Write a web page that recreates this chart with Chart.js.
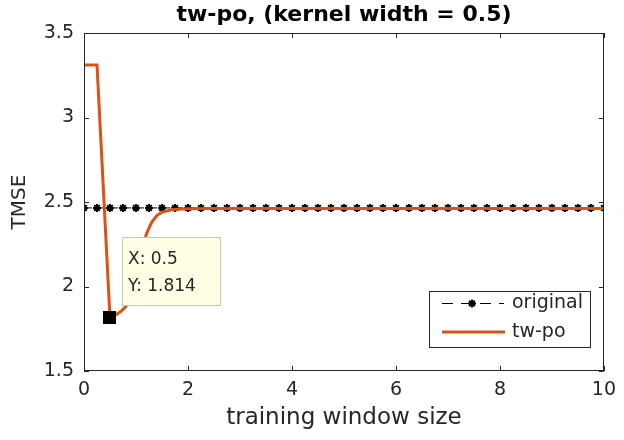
<!DOCTYPE html>
<html>
<head>
<meta charset="utf-8">
<script src="https://cdn.jsdelivr.net/npm/chart.js@4/dist/chart.umd.min.js"></script>
<style>
  html, body { margin: 0; padding: 0; background: #ffffff; }
  #wrap { width: 624px; height: 440px; }
</style>
</head>
<body>
<div id="wrap"><canvas id="c" width="624" height="440"></canvas></div>
<script>
// ---- data ----
const chartTitle = 'tw-po, (kernel width = 0.5)';
const xLabel = 'training window size';
const yLabel = 'TMSE';
const seriesNames = ['original', 'tw-po'];

const originalX = [0, 0.25, 0.5, 0.75, 1, 1.25, 1.5, 1.75, 2, 2.25, 2.5, 2.75, 3, 3.25, 3.5, 3.75,
  4, 4.25, 4.5, 4.75, 5, 5.25, 5.5, 5.75, 6, 6.25, 6.5, 6.75, 7, 7.25, 7.5, 7.75,
  8, 8.25, 8.5, 8.75, 9, 9.25, 9.5, 9.75, 10];
const originalY = [2.465, 2.465, 2.465, 2.465, 2.465, 2.465, 2.465, 2.465, 2.465, 2.465, 2.465,
  2.465, 2.465, 2.465, 2.465, 2.465, 2.465, 2.465, 2.465, 2.465, 2.465, 2.465, 2.465, 2.465,
  2.465, 2.465, 2.465, 2.465, 2.465, 2.465, 2.465, 2.465, 2.465, 2.465, 2.465, 2.465, 2.465,
  2.465, 2.465, 2.465, 2.465];

const twpoX = [0, 0.25, 0.5, 0.6, 0.7, 0.8, 0.9, 1.0, 1.1, 1.15, 1.2, 1.3, 1.4, 1.5, 1.7, 2.0,
  2.5, 3, 4, 5, 6, 7, 8, 9, 10];
const twpoY = [3.31, 3.31, 1.814, 1.83, 1.85, 1.88, 1.93, 2.03, 2.17, 2.25, 2.31, 2.38, 2.42,
  2.44, 2.455, 2.46, 2.462, 2.462, 2.462, 2.462, 2.462, 2.462, 2.462, 2.462, 2.462];

const xTicks = [0, 2, 4, 6, 8, 10];
const yTicks = [1.5, 2, 2.5, 3, 3.5];

const tipX = 0.5;
const tipY = 1.814;
const tipLines = ['X: 0.5', 'Y: 1.814'];

// ---- chart ----
const INK = '#262626';
const ORANGE = '#D95319';
const FONT = 'DejaVu Sans';

const xyOf = (xs, ys) => xs.map((x, i) => ({x: x, y: ys[i]}));

const matlabPlugin = {
  id: 'matlabPlugin',
  afterDatasetsDraw(chart) {
    const {ctx, chartArea: a, scales} = chart;
    const xs = scales.x, ys = scales.y;
    ctx.save();
    // frame
    ctx.strokeStyle = INK;
    ctx.lineWidth = 1;
    ctx.strokeRect(Math.round(a.left) + 0.5, Math.round(a.top) + 0.5,
      Math.round(a.right - a.left) - 1, Math.round(a.bottom - a.top) - 1);
    // inward ticks on all four sides
    const tl = 5;
    ctx.beginPath();
    xs.ticks.forEach(t => {
      const px = Math.round(xs.getPixelForValue(t.value)) + 0.5;
      ctx.moveTo(px, a.bottom); ctx.lineTo(px, a.bottom - tl);
      ctx.moveTo(px, a.top); ctx.lineTo(px, a.top + tl);
    });
    ys.ticks.forEach(t => {
      const py = Math.round(ys.getPixelForValue(t.value)) + 0.5;
      ctx.moveTo(a.left, py); ctx.lineTo(a.left + tl, py);
      ctx.moveTo(a.right, py); ctx.lineTo(a.right - tl, py);
    });
    ctx.stroke();

    // data tip
    const mx = xs.getPixelForValue(tipX), my = ys.getPixelForValue(tipY);
    ctx.fillStyle = '#000000';
    ctx.fillRect(Math.round(mx - 6.5), Math.round(my - 6.5), 13, 13);
    const bx = Math.round(mx + 12), by = Math.round(my - 81);
    const bw = 99, bh = 69;
    ctx.fillStyle = '#FFFFE6';
    ctx.fillRect(bx, by, bw, bh);
    ctx.strokeStyle = '#C8C8B4';
    ctx.strokeRect(bx + 0.5, by + 0.5, bw - 1, bh - 1);
    ctx.fillStyle = INK;
    ctx.font = '17px "' + FONT + '"';
    ctx.textAlign = 'left';
    ctx.textBaseline = 'middle';
    ctx.fillText(tipLines[0], bx + 6, by + 23);
    ctx.fillText(tipLines[1], bx + 6, by + 50);

    // legend (bottom-right inside the axes)
    const lx = 429, ly = 291, lw = 162, lh = 57;
    ctx.fillStyle = '#ffffff';
    ctx.fillRect(lx, ly, lw, lh);
    ctx.strokeStyle = INK;
    ctx.lineWidth = 1;
    ctx.strokeRect(lx + 0.5, ly + 0.5, lw - 1, lh - 1);
    const r1 = 303.5, r2 = 332;
    ctx.strokeStyle = '#000000';
    ctx.lineWidth = 1;
    ctx.setLineDash([11, 8]);
    ctx.beginPath();
    ctx.moveTo(442, r1); ctx.lineTo(504, r1);
    ctx.stroke();
    ctx.setLineDash([]);
    ctx.lineWidth = 2;
    ctx.beginPath();
    const sx = 472, sr = 4;
    for (let k = 0; k < 4; k++) {
      const ang = k * Math.PI / 4;
      ctx.moveTo(sx - sr * Math.cos(ang), r1 - sr * Math.sin(ang));
      ctx.lineTo(sx + sr * Math.cos(ang), r1 + sr * Math.sin(ang));
    }
    ctx.stroke();
    ctx.strokeStyle = ORANGE;
    ctx.lineWidth = 3;
    ctx.beginPath();
    ctx.moveTo(442, r2); ctx.lineTo(505, r2);
    ctx.stroke();
    ctx.fillStyle = INK;
    ctx.font = '19px "' + FONT + '"';
    ctx.textBaseline = 'middle';
    ctx.fillText(seriesNames[0], 512, r1);
    ctx.fillText(seriesNames[1], 512, r2);
    ctx.restore();
  }
};

new Chart(document.getElementById('c'), {
  type: 'line',
  data: {
    datasets: [
      {
        label: seriesNames[0],
        data: xyOf(originalX, originalY),
        borderColor: '#000000',
        borderWidth: 1,
        borderDash: [8, 5],
        pointStyle: 'star',
        pointRadius: 4,
        pointBorderWidth: 2,
        pointBorderColor: '#000000',
        pointBackgroundColor: '#000000',
        tension: 0,
        order: 2
      },
      {
        label: seriesNames[1],
        data: xyOf(twpoX, twpoY),
        borderColor: ORANGE,
        borderWidth: 3,
        pointRadius: 0,
        tension: 0,
        order: 1
      }
    ]
  },
  options: {
    responsive: false,
    animation: false,
    devicePixelRatio: 1,
    layout: { padding: { left: 0, right: 12, top: 0, bottom: 0 } },
    plugins: {
      legend: { display: false },
      tooltip: { enabled: false },
      title: {
        display: true,
        text: chartTitle,
        fullSize: false,
        color: '#000000',
        font: { family: FONT, size: 22, weight: 'bold', lineHeight: 1.2 },
        padding: { top: 2, bottom: 4.6 }
      }
    },
    scales: {
      x: {
        type: 'linear',
        min: 0, max: 10,
        afterBuildTicks: s => { s.ticks = xTicks.map(v => ({value: v})); },
        afterFit: s => { s.height = 69; },
        grid: { display: false, drawTicks: false },
        border: { display: false },
        ticks: { color: INK, padding: 8, font: { family: FONT, size: 19 }, maxRotation: 0,
          callback: v => String(v) },
        title: { display: true, text: xLabel, color: INK,
          font: { family: FONT, size: 23, lineHeight: 1.2 }, padding: { top: 0, bottom: 8.2 } }
      },
      y: {
        min: 1.5, max: 3.5,
        afterBuildTicks: s => { s.ticks = yTicks.map(v => ({value: v})); },
        afterFit: s => { s.width = 84; },
        grid: { display: false, drawTicks: false },
        border: { display: false },
        ticks: { color: INK, padding: 10, font: { family: FONT, size: 19 },
          callback: v => String(v) },
        title: { display: true, text: yLabel, color: INK,
          font: { family: FONT, size: 20, lineHeight: 1.2 }, padding: { top: 8, bottom: 0 } }
      }
    }
  },
  plugins: [matlabPlugin]
});
</script>
</body>
</html>
